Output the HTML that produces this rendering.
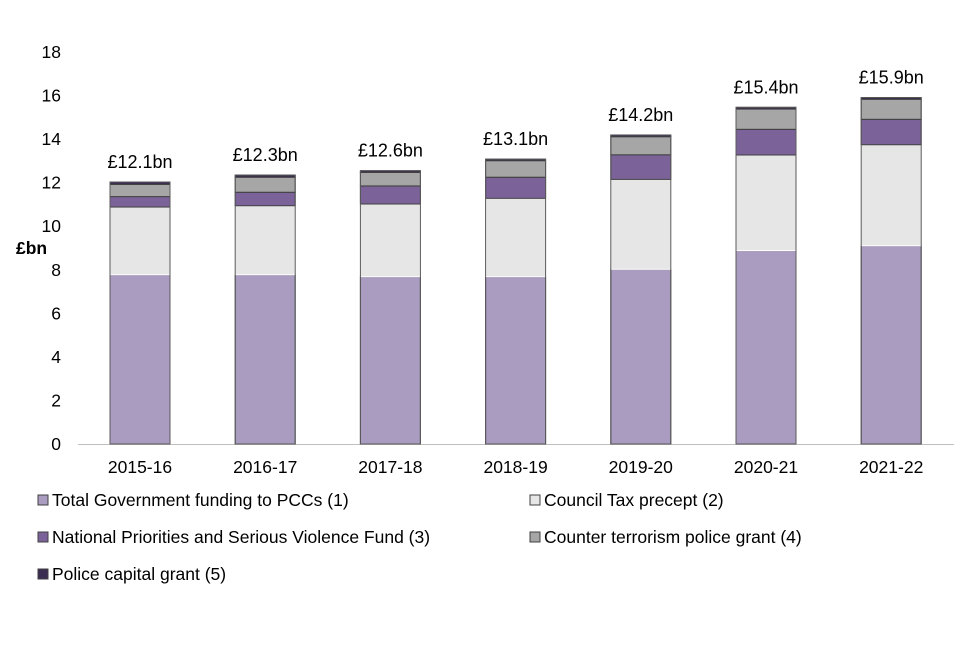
<!DOCTYPE html>
<html><head><meta charset="utf-8"><style>
body{margin:0;background:#fff;font-family:"Liberation Sans",Arial,sans-serif}
svg text{font-family:"Liberation Sans",Arial,sans-serif;fill:#000}
</style></head><body>
<svg id="chart" width="960" height="640"></svg>
<script>
const categories=["2015-16","2016-17","2017-18","2018-19","2019-20","2020-21","2021-22"];
const govFunding=[7.77,7.77,7.68,7.68,8.02,8.88,9.10];
const councilTax=[3.11,3.17,3.34,3.60,4.13,4.39,4.64];
const npsvFund=[0.48,0.62,0.83,0.97,1.13,1.18,1.17];
const ctGrant=[0.56,0.69,0.62,0.76,0.83,0.93,0.92];
const capitalGrant=[0.11,0.10,0.08,0.07,0.08,0.08,0.08];
const totalLabels=["£12.1bn","£12.3bn","£12.6bn","£13.1bn","£14.2bn","£15.4bn","£15.9bn"];
const yTicks=[0,2,4,6,8,10,12,14,16,18];
const seriesNames=["Total Government funding to PCCs (1)","Council Tax precept (2)","National Priorities and Serious Violence Fund (3)","Counter terrorism police grant (4)","Police capital grant (5)"];

const NS="http://www.w3.org/2000/svg";
const svg=document.getElementById('chart');
function mk(t,a,p){const e=document.createElementNS(NS,t);for(const k in a)e.setAttribute(k,a[k]);(p||svg).appendChild(e);return e;}
const y0=444,ppu=392/18;
const y=v=>y0-v*ppu;
const x=i=>78+62+i*125.2;
const bw=60;
const FS=17.5;
const series=[govFunding,councilTax,npsvFund,ctGrant,capitalGrant];
const fills=["#aa9bc1","#e6e6e6","#7b6299","#a6a6a6","#3b2c52"];
const sKeys=["gov-funding","council-tax","npsv-fund","ct-grant","capital-grant"];

yTicks.forEach(t=>{
  const e=mk('text',{x:61,y:y(t)+6,'text-anchor':'end','font-size':FS});
  
  
  e.textContent=t;
});
const yt=mk('text',{x:16,y:254,'font-size':FS,'font-weight':'bold'});


yt.textContent='£bn';
const ax=mk('line',{x1:78,x2:954,y1:y0+.5,y2:y0+.5,stroke:'#bfbfbf','stroke-width':1});



categories.forEach((c,i)=>{
  let acc=0;
  series.forEach((s,k)=>{
    const v=s[i];
    const r=mk('rect',{x:x(i)-bw/2,y:y(acc+v),width:bw,height:v*ppu,fill:fills[k],stroke:k==1?'#fff':'#404040','stroke-width':1});
    
    
    acc+=v;
  });
  const o=mk('rect',{x:x(i)-bw/2,y:y(acc),width:bw,height:acc*ppu,fill:'none',stroke:'#595959','stroke-width':1});
  
  
  const tl=mk('text',{x:x(i),y:y(acc)-14,'text-anchor':'middle','font-size':18});
  
  
  tl.textContent=totalLabels[i];
  const cl=mk('text',{x:x(i),y:473,'text-anchor':'middle','font-size':FS});
  
  
  cl.textContent=c;
});

const legPos=[[38,500],[530,500],[38,537],[530,537],[38,574]];
seriesNames.forEach((n,k)=>{
  const g=mk('g',{});
  
  
  const [lx,ly]=legPos[k];
  mk('rect',{x:lx,y:ly-5,width:10,height:10,fill:fills[k],stroke:'#404040','stroke-width':1},g);
  const t=mk('text',{x:lx+14,y:ly+6,'font-size':FS},g);
  t.textContent=n;
});
</script>
</body></html>
